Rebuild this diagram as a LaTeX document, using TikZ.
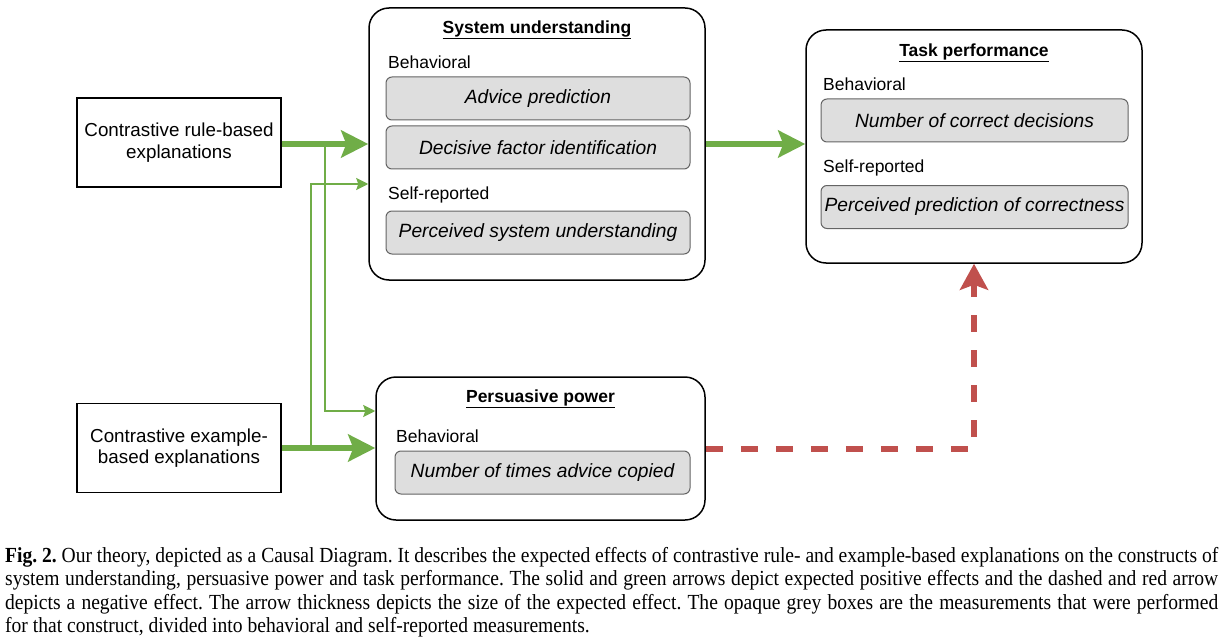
\documentclass[tikz,border=0pt]{standalone}
\usepackage{fontspec}
\setmainfont{Liberation Sans}
\newfontfamily\capfont[FakeStretch=0.91]{Liberation Serif}
\usepackage{tikz}
\usetikzlibrary{arrows.meta}
\usetikzlibrary{positioning}
\usepackage{color}
\definecolor{Pos-1}{RGB}{112,173,71}
\definecolor{Neg-1}{RGB}{192,80,77}
\definecolor{Meas-1}{RGB}{222,222,222}
\definecolor{Meas-2}{RGB}{100,100,100}

\begin{document}
\begin{tikzpicture}[x=1pt, y=-1pt, font=\fontsize{17.5}{21}\selectfont]
    \tikzset{ expl/.style   ={draw=black, line width=1.5pt, rounded corners=0pt, minimum width=204pt, minimum height=89pt, align=center, font=\fontsize{18.8}{21.5}\selectfont} }
    \tikzset{ cons/.style   ={draw=black, line width=1.5pt, rounded corners=20pt} }
    \tikzset{ meas/.style   ={draw=Meas-2, fill=Meas-1, line width=1pt, rounded corners=6pt, minimum height=43pt, font=\fontsize{19.2}{22}\selectfont\itshape} }
    \tikzset{ ttl/.style    ={font=\fontsize{17.5}{21}\selectfont\bfseries} }
    \tikzset{ sub/.style    ={anchor=west, inner sep=0pt} }
    \tikzset{ posarr/.style ={draw=Pos-1, line width=6pt, -{Stealth[length=27pt, width=27pt, inset=5pt]}} }
    \tikzset{ posthn/.style ={draw=Pos-1, line width=2pt, -{Stealth[length=12pt, width=12pt, inset=2pt]}} }
    \tikzset{ negarr/.style ={draw=Neg-1, line width=6pt, dash pattern=on 17pt off 18pt, -{Stealth[length=26pt, width=28pt, inset=5pt]}} }

    \useasboundingbox (0,0) rectangle (1222,639);

    \node[expl                                                ] (rule)  at ( 179.0, 142.5) {Contrastive rule-based\\explanations};
    \node[expl                                                ] (exmp)  at ( 179.0, 448.0) {Contrastive example-\\based explanations};
    \node[cons, minimum width=336pt, minimum height=272pt     ] (su)    at ( 537.0, 144.0) {};
    \node[cons, minimum width=336pt, minimum height=233pt     ] (tp)    at ( 974.0, 146.5) {};
    \node[cons, minimum width=329pt, minimum height=143pt     ] (pp)    at ( 540.5, 448.5) {};

    \node[ttl                                                 ] (su_t)  at ( 537.0,  30.0) {\underline{System understanding}};
    \node[sub                                                 ] (su_b)  at ( 388.0,  62.0) {Behavioral};
    \node[meas, minimum width=304pt                           ] (su_m1) at ( 538.0,  98.5) {Advice prediction};
    \node[meas, minimum width=304pt, below=5pt of su_m1       ] (su_m2)                    {Decisive factor identification};
    \node[sub                                                 ] (su_s)  at ( 388.0, 195.0) {Self-reported};
    \node[meas, minimum width=304pt                           ] (su_m3) at ( 538.0, 232.5) {Perceived system understanding};

    \node[ttl                                                 ] (tp_t)  at ( 974.0,  53.0) {\underline{Task performance}};
    \node[sub                                                 ] (tp_b)  at ( 823.0,  84.0) {Behavioral};
    \node[meas, minimum width=307pt                           ] (tp_m1) at ( 974.5, 120.5) {Number of correct decisions};
    \node[sub                                                 ] (tp_s)  at ( 823.0, 168.0) {Self-reported};
    \node[meas, minimum width=307pt, inner xsep=1pt           ] (tp_m2) at ( 974.5, 207.0) {Perceived prediction of correctness};

    \node[ttl                                                 ] (pp_t)  at ( 540.5, 399.0) {\underline{Persuasive power}};
    \node[sub                                                 ] (pp_b)  at ( 396.0, 436.0) {Behavioral};
    \node[meas, minimum width=295pt                           ] (pp_m1) at ( 542.5, 472.5) {Number of times advice copied};

    \coordinate (rule_br) at (325,144.0);
    \coordinate (exmp_br) at (311,448.0);

    \draw[posarr] (rule.east |- su.west) -- (su.west);
    \draw[posarr] (exmp.east)            -- (exmp.east -| pp.west);
    \draw[posarr] (su.east)              -- (su.east -| tp.west);
    \draw[posthn] (rule_br)              |- ([yshift=37.5pt]pp.west);
    \draw[posthn] (exmp_br)              |- ([yshift=-40pt]su.west);
    \draw[negarr] (pp.east)              -| (tp.south);

    \node[anchor=north west, inner sep=0pt, text width=1213pt, align=justify, font=\capfont\fontsize{21.5}{23.4}\selectfont] (cap) at (5,547)
      {\frenchspacing\tolerance=10000 \textbf{Fig. 2.} Our theory, depicted as a Causal Diagram. It describes the expected effects of contrastive rule- and example-based explanations on the constructs of\linebreak
       system understanding, persuasive power and task performance. The solid and green arrows depict expected positive effects and the dashed and red arrow\linebreak
       depicts a negative effect. The arrow thickness depicts the size of the expected effect. The opaque grey boxes are the measurements that were performed\linebreak
       for that construct, divided into behavioral and self-reported measurements.};
\end{tikzpicture}
\end{document}
